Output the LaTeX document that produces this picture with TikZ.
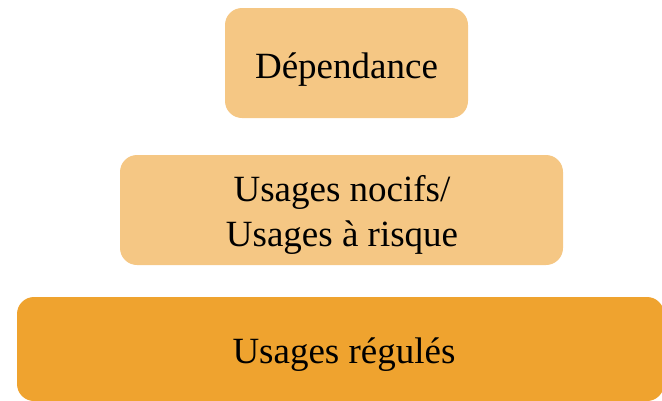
\documentclass[tikz,border=0pt]{standalone}
\usepackage{fontspec}
\setmainfont{Liberation Serif}
\definecolor{lightor}{HTML}{F5C784}
\definecolor{darkor}{HTML}{EFA32F}
\begin{document}
\begin{tikzpicture}[x=1pt,y=-1pt,
  tier/.style={rounded corners=17pt, draw=none, inner sep=0pt, anchor=center},
  lbl/.style={font=\fontsize{37}{45.5}\selectfont, inner sep=0pt, align=center, text=black}]
\useasboundingbox (0,0) rectangle (662,400);
\clip (0,0) rectangle (662,400);
\node[tier, fill=lightor, minimum width=243pt, minimum height=110pt] (top) at (346.5,63) {};
\node[tier, fill=lightor, minimum width=443pt, minimum height=110pt] (mid) at (341.5,210) {};
\node[tier, fill=darkor, minimum width=647pt, minimum height=104pt] (bot) at (340.5,349) {};
\node[lbl, anchor=base] (ttop) at (346.5,78) {Dépendance};
\node[lbl, anchor=base] (tbot) at (344,363) {Usages régulés};
\node[lbl] (tmid) at (342,215) {Usages nocifs/\\Usages à risque};
\end{tikzpicture}
\end{document}
